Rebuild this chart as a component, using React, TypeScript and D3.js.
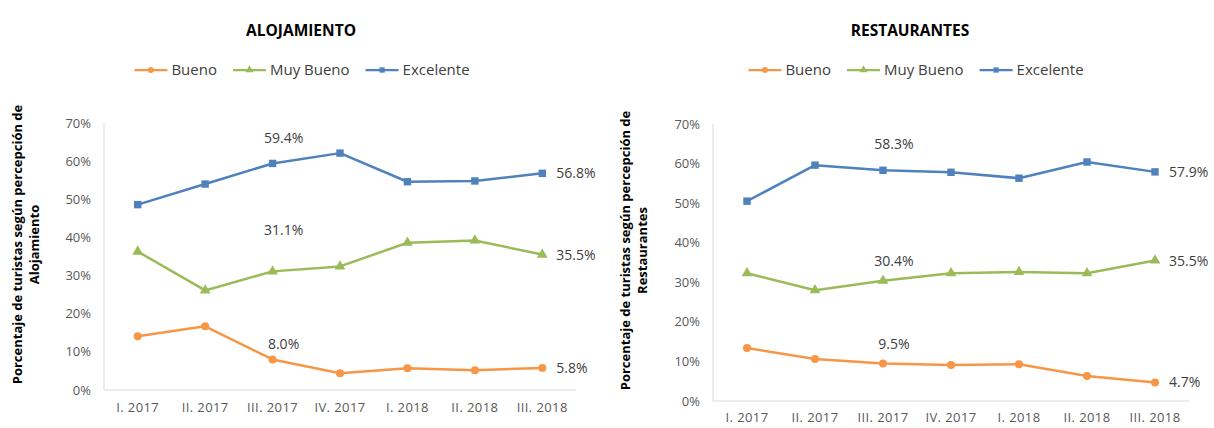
import React, { useRef, useEffect } from "react";
import * as d3 from "d3";

// quarters on the x axis
const quarters = ["I. 2017", "II. 2017", "III. 2017", "IV. 2017", "I. 2018", "II. 2018", "III. 2018"];
const yTicks = [0, 10, 20, 30, 40, 50, 60, 70];
const seriesNames = ["Bueno", "Muy Bueno", "Excelente"];

// Alojamiento (% of tourists)
const alojBueno = [14.1, 16.7, 8.0, 4.4, 5.7, 5.2, 5.8];
const alojMuyBueno = [36.3, 26.1, 31.1, 32.4, 38.6, 39.2, 35.5];
const alojExcelente = [48.6, 54.0, 59.4, 62.1, 54.6, 54.8, 56.8];

// Restaurantes (% of tourists)
const restBueno = [13.4, 10.6, 9.5, 9.1, 9.3, 6.3, 4.7];
const restMuyBueno = [32.3, 28.0, 30.4, 32.3, 32.6, 32.3, 35.5];
const restExcelente = [50.5, 59.6, 58.3, 57.8, 56.3, 60.4, 57.9];

const colors = ["#F79646", "#9BBB59", "#4F81BD"];
const markers = [d3.symbolCircle, d3.symbolTriangle, d3.symbolSquare];
const FONT = "'Open Sans', sans-serif";

interface Panel {
  title: string;
  axisName: string;
  series: number[][];
  left: number;
  right: number;
  top: number;
  bottom: number;
  titleX: number;
  legendX: number;
  yLabelX: number;
  xLabelY: number;
  labelDy: number[]; // vertical offset of the III. 2017 label per series
}

const panels: Panel[] = [
  {
    title: "ALOJAMIENTO",
    axisName: "Alojamiento",
    series: [alojBueno, alojMuyBueno, alojExcelente],
    left: 104, right: 576, top: 123, bottom: 390,
    titleX: 301, legendX: 302, yLabelX: 22, xLabelY: 412,
    labelDy: [-10, -36, -20],
  },
  {
    title: "RESTAURANTES",
    axisName: "Restaurantes",
    series: [restBueno, restMuyBueno, restExcelente],
    left: 713, right: 1189, top: 124, bottom: 401,
    titleX: 910, legendX: 916, yLabelX: 630, xLabelY: 422,
    labelDy: [-14, -15, -21],
  },
];

export default function App() {
  const svgRef = useRef<SVGSVGElement | null>(null);

  useEffect(() => {
    document.body.style.margin = "0";
    const svg = d3.select(svgRef.current);
    svg.selectAll("*").remove();

    svg.append("rect").attr("width", 1214).attr("height", 428).attr("fill", "#fff");

    panels.forEach(p => {
      const g = svg.append("g");

      const x = d3.scalePoint<string>().domain(quarters).range([p.left, p.right]).padding(0.5);
      const y = d3.scaleLinear().domain([0, 70]).range([p.bottom, p.top]);

      // title
      g.append("text")
        .attr("x", p.titleX)
        .attr("y", 36)
        .attr("text-anchor", "middle")
        .attr("font-family", FONT)
        .attr("font-size", 15.5)
        .attr("font-weight", 700)
        .attr("fill", "#000")
        .text(p.title);

      // legend, centred over the plot
      const leg = g.append("g");
      let cx = 0;
      seriesNames.forEach((name, i) => {
        const item = leg.append("g").attr("transform", `translate(${cx},0)`);
        item.append("line")
          .attr("x1", 0).attr("x2", 33)
          .attr("stroke", colors[i]).attr("stroke-width", 2.25);
        item.append("path")
          .attr("transform", "translate(16.5,0)")
          .attr("d", d3.symbol().type(markers[i]).size(28)())
          .attr("fill", colors[i]);
        const t = item.append("text")
          .attr("x", 37).attr("y", 5)
          .attr("font-family", FONT)
          .attr("font-size", 15)
          .attr("fill", "#404040")
          .text(name);
        const w = (t.node() as SVGTextElement).getComputedTextLength();
        cx += 37 + w + 16;
      });
      const legW = cx - 16;
      leg.attr("transform", `translate(${p.legendX - legW / 2},70)`);

      // axis lines
      g.append("line")
        .attr("x1", p.left).attr("x2", p.left)
        .attr("y1", p.top).attr("y2", p.bottom)
        .attr("stroke", "#D9D9D9");
      g.append("line")
        .attr("x1", p.left).attr("x2", p.right)
        .attr("y1", p.bottom).attr("y2", p.bottom)
        .attr("stroke", "#D9D9D9");

      // y tick labels
      g.selectAll(".ytick")
        .data(yTicks)
        .enter()
        .append("text")
        .attr("x", p.left - 13)
        .attr("y", d => y(d) + 4.5)
        .attr("text-anchor", "end")
        .attr("font-family", FONT)
        .attr("font-size", 13)
        .attr("fill", "#595959")
        .text(d => `${d}%`);

      // x tick labels
      g.selectAll(".xtick")
        .data(quarters)
        .enter()
        .append("text")
        .attr("x", d => x(d) as number)
        .attr("y", p.xLabelY)
        .attr("text-anchor", "middle")
        .attr("font-family", FONT)
        .attr("font-size", 13)
        .attr("letter-spacing", 0.4)
        .attr("fill", "#595959")
        .text(d => d);

      // y axis title, two lines
      const yt = g.append("text")
        .attr("transform", `translate(${p.yLabelX},${(p.top + p.bottom) / 2 - 12}) rotate(-90)`)
        .attr("text-anchor", "middle")
        .attr("font-family", FONT)
        .attr("font-size", 13)
        .attr("font-weight", 700)
        .attr("fill", "#000");
      yt.append("tspan").attr("x", 0).attr("dy", 0).text("Porcentaje de turistas según percepción de");
      yt.append("tspan").attr("x", 0).attr("dy", 17).text(p.axisName);

      // series
      const line = d3.line<number>()
        .x((_, i) => x(quarters[i]) as number)
        .y(d => y(d));

      p.series.forEach((vals, si) => {
        g.append("path")
          .datum(vals)
          .attr("fill", "none")
          .attr("stroke", colors[si])
          .attr("stroke-width", 2.5)
          .attr("stroke-linejoin", "round")
          .attr("d", line);

        g.selectAll(`.pt${si}`)
          .data(vals)
          .enter()
          .append("path")
          .attr("transform", (d, i) => `translate(${x(quarters[i])},${y(d)})`)
          .attr("d", d3.symbol().type(markers[si]).size(si === 2 ? 55 : 50)())
          .attr("fill", colors[si]);

        // labels: III. 2017 above the point, last quarter to the right
        const v3 = vals[2];
        g.append("text")
          .attr("x", (x(quarters[2]) as number) + 11)
          .attr("y", y(v3) + p.labelDy[si])
          .attr("text-anchor", "middle")
          .attr("font-family", FONT)
          .attr("font-size", 14)
          .attr("fill", "#404040")
          .text(`${v3.toFixed(1)}%`);

        const vl = vals[vals.length - 1];
        g.append("text")
          .attr("x", (x(quarters[6]) as number) + 14)
          .attr("y", y(vl) + 5)
          .attr("font-family", FONT)
          .attr("font-size", 14)
          .attr("fill", "#404040")
          .text(`${vl.toFixed(1)}%`);
      });
    });
  }, []);

  return <svg ref={svgRef} width={1214} height={428} style={{ display: "block" }}></svg>;
}
